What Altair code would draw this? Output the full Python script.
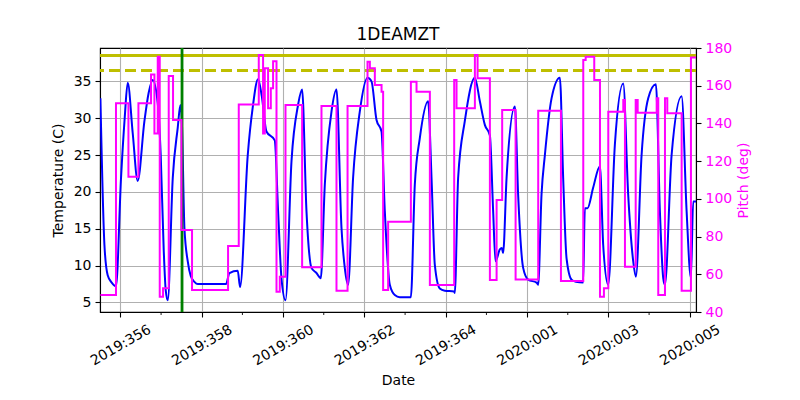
import altair as alt
import pandas as pd

# ---- data (time in days since 2019:356.0 = 2019-12-22 00:00 UTC) ----
temp_days = [-0.492, -0.393, -0.313, -0.214, -0.109, 0.015, 0.105, 0.180, 0.302, 0.425,
             0.590, 0.696, 0.795, 0.918, 0.991, 1.065, 1.115, 1.164, 1.287, 1.409,
             1.475, 1.508, 1.574, 1.655, 1.729, 1.820, 1.902, 2.597, 2.681, 2.885,
             2.942, 3.131, 3.254, 3.384, 3.476, 3.591, 3.795, 3.877, 3.960, 4.059,
             4.207, 4.368, 4.467, 4.575, 4.698, 4.821, 4.927, 5.026, 5.190, 5.313,
             5.436, 5.517, 5.599, 5.721, 5.886, 6.075, 6.174, 6.296, 6.420, 6.501,
             6.624, 6.747, 6.870, 7.141, 7.239, 7.362, 7.566, 7.650, 7.731, 7.853,
             7.977, 8.205, 8.222, 8.304, 8.468, 8.715, 8.838, 8.961, 9.084, 9.165,
             9.223, 9.330, 9.379, 9.410, 9.495, 9.699, 9.779, 9.903, 10.026, 10.233,
             10.272, 10.355, 10.437, 10.601, 10.806, 10.887, 10.970, 11.093, 11.199, 11.378,
             11.420, 11.486, 11.625, 11.790, 11.871, 11.994, 12.158, 12.363, 12.485, 12.609,
             12.675, 12.815, 12.978, 13.167, 13.265, 13.347, 13.388, 13.553, 13.799, 13.922,
             14.028, 14.084, 14.153]
temp_vals = [32.7, 12.8, 8.7, 7.7, 7.2, 21.9, 30.0, 34.8, 28.0, 21.5,
             29.6, 33.5, 35.2, 32.0, 25.0, 12.1, 6.6, 5.3, 21.9, 28.7,
             31.8, 30.0, 15.1, 10.6, 8.6, 7.8, 7.5, 7.5, 9.0, 9.3,
             7.1, 25.0, 31.5, 35.3, 33.0, 28.2, 27.0, 17.4, 8.3, 5.3,
             24.2, 31.8, 33.9, 17.4, 9.7, 9.0, 8.3, 21.0, 30.9, 33.9,
             15.1, 9.7, 7.4, 21.9, 30.9, 35.5, 35.0, 29.8, 28.2, 17.4,
             7.4, 6.0, 5.7, 5.7, 21.0, 27.3, 32.3, 21.9, 10.1, 6.9,
             6.6, 6.5, 6.3, 21.9, 29.6, 35.5, 32.3, 29.1, 27.7, 17.4,
             10.6, 12.2, 12.4, 11.7, 21.9, 31.6, 19.7, 9.7, 8.1, 7.7,
             7.4, 19.7, 25.0, 32.7, 35.5, 21.9, 11.0, 8.1, 7.8, 7.7,
             17.8, 17.8, 20.6, 23.5, 12.8, 7.4, 26.4, 34.7, 19.7, 10.6,
             8.5, 25.0, 32.7, 34.6, 17.4, 8.3, 7.4, 25.0, 33.0, 17.4,
             8.3, 18.7, 18.7]

pitch_days = [-0.492, -0.109, 0.197, 0.443, 0.753, 0.836, 0.918, 0.967, 1.048, 1.188,
              1.294, 1.501, 1.761, 2.647, 2.910, 3.402, 3.508, 3.550, 3.631, 3.698,
              3.754, 3.838, 3.919, 4.059, 4.468, 4.944, 5.313, 5.585, 6.076, 6.134,
              6.256, 6.421, 6.460, 6.583, 7.142, 7.281, 7.609, 8.207, 8.265, 8.716,
              8.782, 9.085, 9.250, 9.387, 9.717, 10.273, 10.832, 11.381, 11.440, 11.651,
              11.792, 11.889, 11.996, 12.365, 12.406, 12.670, 12.719, 13.186, 13.225, 13.390,
              13.447, 13.800, 14.029, 14.153]
pitch_vals = [49.0, 150.7, 111.7, 150.7, 166.0, 134.7, 175.4, 48.1, 52.6, 165.1,
              141.8, 83.5, 51.7, 75.0, 150.1, 176.3, 134.7, 169.2, 148.0, 158.6,
              173.0, 50.8, 58.7, 149.8, 63.7, 149.2, 51.3, 149.2, 172.7, 169.2,
              160.4, 156.8, 51.7, 87.9, 162.1, 156.8, 54.3, 163.0, 148.0, 176.3,
              163.9, 57.0, 99.4, 147.1, 57.3, 146.7, 56.4, 173.6, 175.4, 163.0,
              48.1, 52.6, 146.2, 152.4, 64.0, 152.4, 145.7, 153.3, 49.0, 153.3,
              145.4, 51.3, 175.0, 175.0]

major_tick_days = [0, 2, 4, 6, 8, 10, 12, 14]
minor_tick_days = [1, 3, 5, 7, 9, 11, 13]
now_day = [1.515]
x_range_days = [-0.502, 14.153]
temp_ticks = [5, 10, 15, 20, 25, 30, 35]
temp_domain = [3.71, 39.53]
pitch_ticks = [40, 60, 80, 100, 120, 140, 160, 180]
pitch_domain = [40, 180]
yellow_limit = 38.5
planning_limit = 36.5

BASE_MS = int(pd.Timestamp("2019-12-22", tz="UTC").timestamp() * 1000)
DAY_MS = 86400000


def to_ms(days):
    return [BASE_MS + d * DAY_MS for d in days]


temp_df = pd.DataFrame({"time": to_ms(temp_days), "temp": temp_vals})
pitch_df = pd.DataFrame({"time": to_ms(pitch_days), "pitch": pitch_vals})
minor_df = pd.DataFrame({"time": to_ms(minor_tick_days)})
now_df = pd.DataFrame({"time": to_ms(now_day)})

W, H = 596, 264
FONT = "DejaVu Sans"

x_scale = alt.Scale(type="utc", domain=to_ms(x_range_days), nice=False)
x_axis = alt.Axis(values=to_ms(major_tick_days),
                  labelExpr="utcFormat(datum.value, '%Y:%j')",
                  labelAngle=-30, labelAlign="center", labelBaseline="middle",
                  labelPadding=28, labelFlush=False, labelOverlap=False,
                  grid=True, title="Date", titleX=W / 2, titleY=68,
                  titleAlign="center", titleBaseline="middle")
x_enc = alt.X("time:T", scale=x_scale, axis=x_axis)

t_scale = alt.Scale(domain=temp_domain, nice=False, zero=False)
t_axis = alt.Axis(values=temp_ticks, orient="left", grid=True, format="d",
                  title="Temperature (C)", titleX=-42, titleY=H / 2, titleAngle=270,
                  titleAlign="center", titleBaseline="middle", labelPadding=4)

p_scale = alt.Scale(domain=pitch_domain, nice=False, zero=False)
p_axis = alt.Axis(values=pitch_ticks, orient="right", grid=False, format="d",
                  title="Pitch (deg)", titleX=47, titleY=H / 2, titleAngle=270,
                  titleAlign="center", titleBaseline="middle",
                  labelColor="#ff00ff", titleColor="#ff00ff", labelPadding=4)

blue = alt.Chart(temp_df).mark_line(color="#0000ff", strokeWidth=2, clip=True,
                                    interpolate="monotone").encode(
    x=x_enc, y=alt.Y("temp:Q", scale=t_scale, axis=t_axis))

yellow = alt.Chart(temp_df).mark_rule(color="#bfbf00", strokeWidth=2.8).encode(
    y=alt.datum(yellow_limit))
planning = alt.Chart(temp_df).mark_rule(color="#bfbf00", strokeWidth=2.8,
                                        strokeDash=[11, 5]).encode(
    y=alt.datum(planning_limit))

now_line = alt.Chart(now_df).mark_rule(color="#008000", strokeWidth=2.8).encode(x=x_enc)

minor = alt.Chart(minor_df).mark_rule(color="black", strokeWidth=0.9).encode(
    x=x_enc, y=alt.value(H), y2=alt.value(H + 3))

pink = alt.Chart(pitch_df).mark_line(color="#ff00ff", strokeWidth=2,
                                     interpolate="step-after", clip=True).encode(
    x=x_enc, y=alt.Y("pitch:Q", scale=p_scale, axis=p_axis))

temp_layer = alt.layer(blue, yellow, planning, now_line, minor)

chart = alt.layer(temp_layer, pink).resolve_scale(y="independent").properties(
    width=W, height=H,
    title=alt.TitleParams(text="1DEAMZT", font=FONT, fontSize=17, fontWeight="normal",
                          color="black", frame="group", anchor="middle", offset=8,
                          baseline="alphabetic", dy=24),
    padding={"left": 92, "top": 40, "right": 92, "bottom": 76},
    autosize=alt.AutoSizeParams(type="none"),
).configure_view(stroke="black", strokeWidth=1.1).configure_axis(
    labelFont=FONT, labelFontSize=14, titleFont=FONT, titleFontSize=14,
    titleFontWeight="normal", labelColor="black", titleColor="black",
    tickColor="black", domainColor="black", tickSize=5, tickWidth=1.1,
    domainWidth=1.1, gridColor="#b0b0b0", gridWidth=1.1,
)

chart.save("out.html", embed_options={"renderer": "svg", "actions": False})
